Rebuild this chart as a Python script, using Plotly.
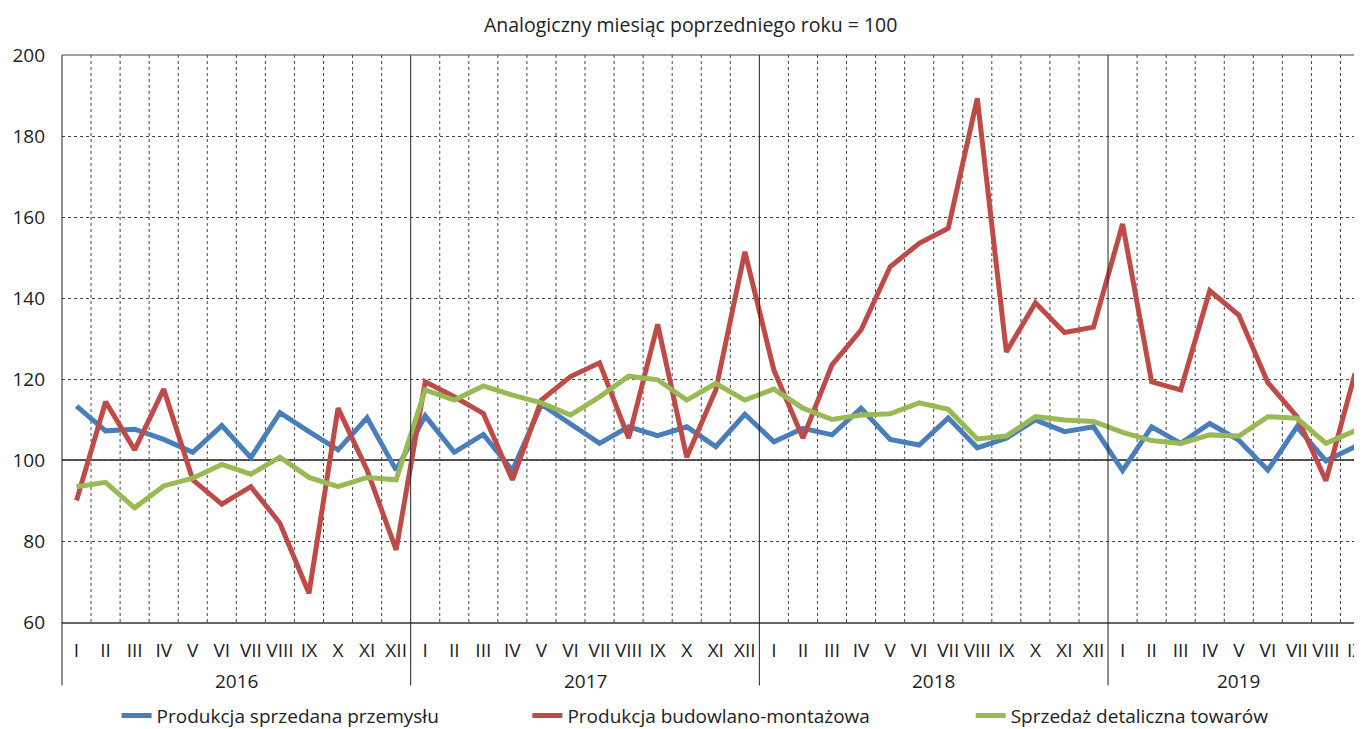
import plotly.graph_objects as go

years = ["2016", "2017", "2018", "2019"]
months = ["I", "II", "III", "IV", "V", "VI", "VII", "VIII", "IX", "X", "XI", "XII"]
month_labels = months * 3 + months[:9]

produkcja_przemyslu = [
    113.3, 107.2, 107.6, 105.1, 101.9, 108.5, 100.6, 111.7, 107.0, 102.5, 110.4, 97.5,
    110.9, 101.9, 106.3, 97.4, 113.7, 109.0, 104.1, 108.2, 106.0, 108.2, 103.3, 111.3,
    104.5, 107.8, 106.2, 112.8, 105.1, 103.7, 110.4, 103.0, 105.4, 109.9, 107.0, 108.2,
    97.4, 108.2, 104.1, 109.0, 104.9, 97.5, 108.2, 99.8, 103.3,
]
produkcja_budowlana = [
    90.0, 114.4, 102.5, 117.5, 95.1, 89.1, 93.4, 84.4, 67.1, 112.8, 97.5, 77.8,
    119.3, 115.6, 111.5, 95.1, 114.8, 120.6, 124.0, 105.4, 133.5, 100.7, 117.3, 151.4,
    122.2, 105.4, 123.5, 132.1, 147.7, 153.5, 157.2, 189.3, 126.7, 138.8, 131.5, 132.8,
    158.3, 119.3, 117.3, 141.8, 135.8, 119.1, 110.7, 94.9, 121.4,
]
sprzedaz_detaliczna = [
    93.4, 94.5, 88.2, 93.6, 95.5, 98.9, 96.5, 100.7, 95.7, 93.4, 95.7, 95.1,
    117.3, 114.8, 118.3, 116.0, 114.1, 111.1, 115.6, 120.7, 119.8, 114.8, 118.9, 114.8,
    117.5, 112.8, 110.0, 111.1, 111.4, 114.1, 112.5, 105.2, 105.9, 110.7, 109.9, 109.5,
    106.8, 104.8, 104.1, 106.2, 105.9, 110.7, 110.3, 104.1, 107.2,
]

series_names = ["Produkcja sprzedana przemysłu", "Produkcja budowlano-montażowa", "Sprzedaż detaliczna towarów"]
series_colors = ["#4a7ebb", "#be4b48", "#98b954"]

FONT = "Open Sans"
FS = 19
x = list(range(len(month_labels)))

fig = go.Figure()
legend_ids = ["legend", "legend2", "legend3"]
for i, (name, vals, col) in enumerate(zip(series_names, [produkcja_przemyslu, produkcja_budowlana, sprzedaz_detaliczna], series_colors)):
    fig.add_trace(go.Scatter(
        x=x, y=vals, mode="lines", name=name,
        line=dict(color=col, width=5),
        legend=legend_ids[i],
    ))

shapes = []
for k in range(len(month_labels)):
    b = k + 0.5
    if (k + 1) % 12 == 0:
        shapes.append(dict(type="line", xref="x", yref="paper", x0=b, x1=b, y0=-0.112, y1=1,
                           line=dict(color="#222222", width=1)))
    else:
        shapes.append(dict(type="line", xref="x", yref="paper", x0=b, x1=b, y0=0, y1=1,
                           line=dict(color="#444444", width=1, dash="3px,3px"), layer="below"))
# left axis extension
shapes.append(dict(type="line", xref="paper", yref="paper", x0=0, x1=0, y0=-0.112, y1=1,
                   line=dict(color="#222222", width=1)))
# top border
shapes.append(dict(type="line", xref="paper", yref="paper", x0=0, x1=1, y0=1, y1=1,
                   line=dict(color="#444444", width=1)))
# 100 reference line
shapes.append(dict(type="line", xref="paper", yref="y", x0=0, x1=1, y0=100, y1=100,
                   line=dict(color="#555555", width=2), layer="below"))

annotations = [
    dict(text="Analogiczny miesiąc poprzedniego roku = 100", xref="paper", yref="paper",
         x=0.4835, y=1.0, yanchor="middle", yshift=31, showarrow=False,
         font=dict(family=FONT, size=19.5, color="#222222")),
]
year_centers = [5.5, 17.5, 29.5, 40]
for yr, cx in zip(years, year_centers):
    annotations.append(dict(text=yr, xref="x", yref="paper", x=cx, y=-0.104, showarrow=False,
                            font=dict(family=FONT, size=FS, color="#222222"), yanchor="middle"))

leg_y = -0.165
fig.update_layout(
    width=1354, height=721,
    margin=dict(l=54, r=0, t=47, b=107, autoexpand=False),
    paper_bgcolor="white", plot_bgcolor="white",
    font=dict(family=FONT, size=FS, color="#222222"),
    xaxis=dict(range=[-0.5, 44.24], tickvals=x, ticktext=month_labels, showgrid=False,
               zeroline=False, showline=True, linecolor="#666666", linewidth=2,
               ticks="", ticklabelstandoff=10, tickangle=0, ticklabeloverflow="allow",
               automargin=False, tickfont=dict(family=FONT, size=FS)),
    yaxis=dict(range=[60, 200], dtick=20, showgrid=True, gridcolor="#444444", griddash="3px,3px",
               gridwidth=1, zeroline=False, showline=False, ticks="", ticklabelstandoff=16,
               automargin=False, tickfont=dict(family=FONT, size=FS)),
    showlegend=True,
    legend=dict(orientation="h", x=0.042, y=leg_y, xanchor="left", yanchor="middle", font=dict(family=FONT, size=FS)),
    legend2=dict(orientation="h", x=0.358, y=leg_y, xanchor="left", yanchor="middle", font=dict(family=FONT, size=FS)),
    legend3=dict(orientation="h", x=0.699, y=leg_y, xanchor="left", yanchor="middle", font=dict(family=FONT, size=FS)),
    shapes=shapes, annotations=annotations,
)

fig.write_html("out.html")
